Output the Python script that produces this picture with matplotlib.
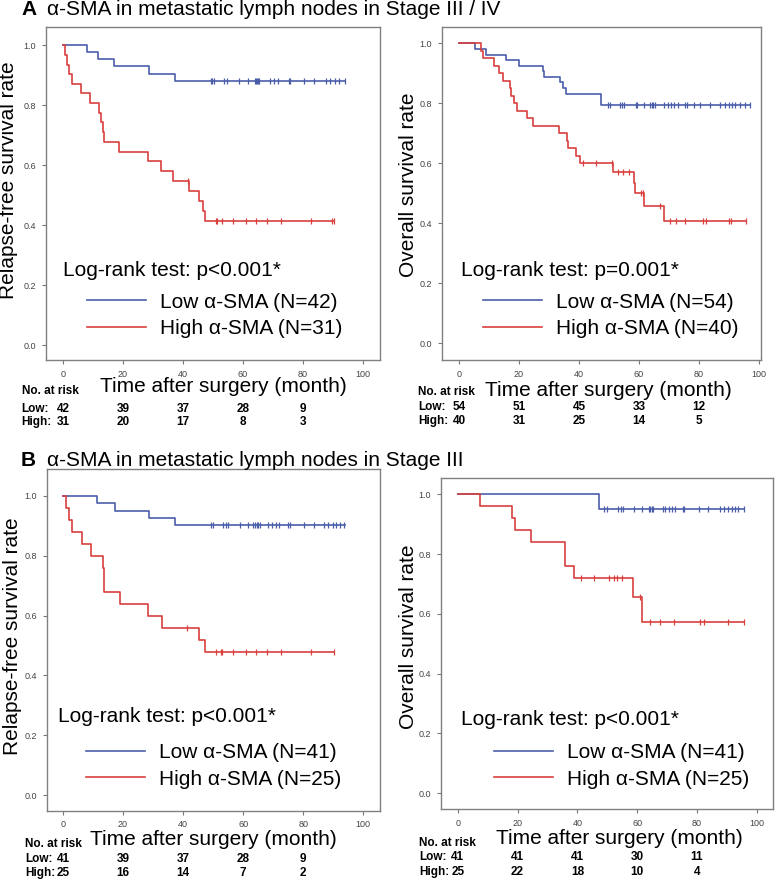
import numpy as np
import matplotlib
matplotlib.use('Agg')
import matplotlib.pyplot as plt
import matplotlib.transforms as mtransforms

plt.rcParams['font.family'] = ['Liberation Sans', 'DejaVu Sans']

BLUE = '#4a5daa'
RED = '#d8403e'
W, H = 778, 880

# ---------------- data ----------------
# Panel A (Stage III / IV), relapse-free survival
a_rfs_low_t = [0, 7.9, 11.5, 17.1, 28.7, 37.3, 94.0]
a_rfs_low_s = [1.0, 0.976, 0.952, 0.929, 0.905, 0.881, 0.881]
a_rfs_low_cens = [49.3, 49.6, 50.2, 53.7, 54.6, 58.8, 61.8, 64.1, 64.4, 64.6, 64.9, 65.2,
                  69.1, 70.4, 71.6, 75.3, 75.7, 80.4, 83.8, 87.7, 89.1, 90.8, 91.9, 93.9]
a_rfs_high_t = [0, 0.7, 1.4, 2.0, 2.9, 6.0, 8.9, 12.1, 12.7, 13.2, 13.7, 18.8, 28.3,
                32.7, 36.5, 42.0, 45.4, 46.5, 47.2, 90.5]
a_rfs_high_s = [1.0, 0.968, 0.935, 0.903, 0.871, 0.839, 0.806, 0.774, 0.742, 0.710, 0.677,
                0.645, 0.613, 0.581, 0.548, 0.514, 0.480, 0.446, 0.412, 0.412]
a_rfs_high_cens = [41.5, 51.1, 51.5, 52.9, 56.6, 61.0, 64.4, 68.0, 72.6, 82.6, 89.7, 90.5]

# Panel A (Stage III / IV), overall survival
a_os_low_t = [0, 5.4, 8.9, 15.8, 19.9, 27.9, 28.3, 33.8, 34.7, 35.7, 47.3, 97.1]
a_os_low_s = [1.0, 0.981, 0.963, 0.944, 0.926, 0.907, 0.889, 0.870, 0.852, 0.833, 0.796, 0.796]
a_os_low_cens = [49.6, 50.2, 53.6, 54.2, 55.1, 58.9, 59.3, 61.8, 63.8, 64.3, 64.8, 65.4,
                 68.4, 69.6, 70.7, 71.8, 72.9, 75.4, 76.0, 78.2, 80.4, 83.8, 87.1, 88.8,
                 89.9, 91.0, 92.1, 93.8, 95.3, 97.1]
a_os_high_t = [0, 7.3, 8.0, 11.6, 13.4, 14.7, 16.9, 17.3, 18.4, 19.3, 22.7, 24.7, 33.3,
               36.0, 36.3, 39.1, 40.2, 51.3, 58.2, 58.6, 61.6, 68.2, 95.8]
a_os_high_s = [1.0, 0.975, 0.95, 0.925, 0.90, 0.875, 0.85, 0.825, 0.80, 0.775, 0.75, 0.725,
               0.70, 0.675, 0.65, 0.625, 0.60, 0.572, 0.536, 0.50, 0.459, 0.408, 0.408]
a_os_high_cens = [41.3, 45.7, 51.0, 52.9, 54.7, 56.6, 60.7, 61.2, 67.1, 70.4, 72.4, 75.4,
                  81.3, 82.4, 89.9, 90.7, 95.8]

# Panel B (Stage III), relapse-free survival
b_rfs_low_t = [0, 11.4, 17.3, 28.7, 37.3, 93.9]
b_rfs_low_s = [1.0, 0.976, 0.951, 0.927, 0.902, 0.902]
b_rfs_low_cens = [49.3, 50.1, 53.4, 54.2, 55.1, 58.9, 61.7, 63.4, 64.0, 64.5, 65.0, 65.6,
                  68.4, 69.5, 70.9, 72.0, 75.0, 75.6, 80.4, 83.7, 87.0, 88.3, 90.0, 91.1,
                  92.2, 93.7]
b_rfs_high_t = [0, 0.9, 2.0, 3.1, 6.2, 9.2, 13.2, 13.5, 13.8, 19.0, 28.2, 32.9, 45.3, 47.3, 90.3]
b_rfs_high_s = [1.0, 0.96, 0.92, 0.88, 0.84, 0.80, 0.76, 0.72, 0.68, 0.64, 0.60, 0.56,
                0.52, 0.48, 0.48]
b_rfs_high_cens = [41.4, 50.9, 52.6, 53.1, 56.5, 60.8, 64.3, 67.8, 72.5, 82.5, 90.3]

# Panel B (Stage III), overall survival
b_os_low_t = [0, 47.3, 95.8]
b_os_low_s = [1.0, 0.951, 0.951]
b_os_low_cens = [48.9, 49.8, 53.7, 54.5, 55.2, 59.0, 61.5, 63.8, 64.3, 64.8, 65.4, 68.6,
                 69.3, 70.5, 71.6, 72.7, 75.3, 75.7, 80.5, 83.8, 87.7, 88.9, 90.5, 91.6,
                 92.7, 93.8, 95.8]
b_os_high_t = [0, 7.5, 18.3, 19.0, 24.5, 35.7, 36.0, 38.9, 58.5, 61.5, 95.8]
b_os_high_s = [1.0, 0.96, 0.92, 0.88, 0.84, 0.80, 0.76, 0.72, 0.655, 0.573, 0.573]
b_os_high_cens = [41.1, 45.6, 50.7, 52.1, 53.4, 54.8, 60.8, 64.3, 67.7, 72.4, 81.0, 82.4,
                  90.3, 95.8]

# number at risk at 0, 20, 40, 60, 80 months
risk_times = [0, 20, 40, 60, 80]
a_rfs_risk_low = [42, 39, 37, 28, 9]
a_rfs_risk_high = [31, 20, 17, 8, 3]
a_os_risk_low = [54, 51, 45, 33, 12]
a_os_risk_high = [40, 31, 25, 14, 5]
b_rfs_risk_low = [41, 39, 37, 28, 9]
b_rfs_risk_high = [25, 16, 14, 7, 2]
b_os_risk_low = [41, 41, 41, 30, 11]
b_os_risk_high = [25, 22, 18, 10, 4]

fig = plt.figure(figsize=(W / 100, H / 100), dpi=100)


def fx(px):
    return px / W


def fy(py):
    return 1 - py / H


def km(ax, t, s, cens, color):
    ax.step(t, s, where='post', color=color, lw=1.2)
    idx = np.searchsorted(t, cens, side='right') - 1
    ax.plot(cens, np.array(s)[idx], ls='none', marker='|', ms=5, mew=0.9, color=color)


def panel(box, xlim, ylim, low, high, n_low, n_high, ylabel, ptext,
          text_pos, leg_pos, risk_low, risk_high, lab_xy, rows):
    l, t, r, b = box
    ax = fig.add_axes([fx(l), fy(b), fx(r - l), (b - t) / H])
    km(ax, *low, BLUE)
    km(ax, *high, RED)
    ax.set_xlim(*xlim)
    ax.set_ylim(*ylim)
    ax.set_xticks([0, 20, 40, 60, 80, 100])
    ax.set_yticks([0, 0.2, 0.4, 0.6, 0.8, 1.0])
    ax.set_yticklabels(['0.0', '0.2', '0.4', '0.6', '0.8', '1.0'])
    ax.tick_params(labelsize=6.5, labelcolor='#444444', color='#777777',
                   length=3, width=0.8, pad=4)
    for sp in ax.spines.values():
        sp.set_color('#808080')
        sp.set_linewidth(1.0)

    ax.text(text_pos[0], text_pos[1], ptext, transform=ax.transAxes,
            fontsize=15, va='center', ha='left')
    h1, = ax.plot([], [], color=BLUE, lw=1.2)
    h2, = ax.plot([], [], color=RED, lw=1.2)
    ax.legend([h1, h2], ['Low \u03b1-SMA (N=%d)' % n_low, 'High \u03b1-SMA (N=%d)' % n_high],
              loc='center left', bbox_to_anchor=leg_pos, frameon=False, fontsize=15,
              handlelength=2.85, handletextpad=0.67, labelspacing=0.36,
              borderpad=0, borderaxespad=0)

    # axis titles
    ylx, yly, xlx, xly = lab_xy
    fig.text(fx(ylx), fy(yly), ylabel, rotation=90, fontsize=15, ha='center', va='center')
    fig.text(fx(xlx), fy(xly), 'Time after surgery (month)', fontsize=15,
             ha='center', va='center')

    # number at risk table
    tx, y0, y1, y2 = rows
    fig.text(fx(tx), fy(y0), 'No. at risk', fontsize=8.5, fontweight='bold', va='center')
    fig.text(fx(tx), fy(y1), 'Low:', fontsize=8.5, fontweight='bold', va='center')
    fig.text(fx(tx), fy(y2), 'High:', fontsize=8.5, fontweight='bold', va='center')
    trans = mtransforms.blended_transform_factory(ax.transData, fig.transFigure)
    for tm, nl, nh in zip(risk_times, risk_low, risk_high):
        ax.text(tm, fy(y1), str(nl), transform=trans, fontsize=8.5, fontweight='bold',
                ha='center', va='center')
        ax.text(tm, fy(y2), str(nh), transform=trans, fontsize=8.5, fontweight='bold',
                ha='center', va='center')
    return ax


# panel titles
fig.text(fx(21), fy(15), 'A', fontsize=15, fontweight='bold', va='baseline')
fig.text(fx(46.7), fy(15), '\u03b1-SMA in metastatic lymph nodes in Stage III / IV',
         fontsize=15, va='baseline')
fig.text(fx(21), fy(466), 'B', fontsize=15, fontweight='bold', va='baseline')
fig.text(fx(46.7), fy(466), '\u03b1-SMA in metastatic lymph nodes in Stage III',
         fontsize=15, va='baseline')

panel((46, 27, 380, 360), (-5.67, 105.67), (-0.05, 1.06),
      (a_rfs_low_t, a_rfs_low_s, a_rfs_low_cens),
      (a_rfs_high_t, a_rfs_high_s, a_rfs_high_cens), 42, 31,
      'Relapse-free survival rate', 'Log-rank test: p<0.001*',
      (0.051, 0.270), (0.123, 0.134), a_rfs_risk_low, a_rfs_risk_high,
      (9, 180, 223, 387), (21.7, 391, 409, 422))

panel((442, 27, 761, 360), (-5.67, 100.67), (-0.056, 1.055),
      (a_os_low_t, a_os_low_s, a_os_low_cens),
      (a_os_high_t, a_os_high_s, a_os_high_cens), 54, 40,
      'Overall survival rate', 'Log-rank test: p=0.001*',
      (0.059, 0.270), (0.1285, 0.134), a_os_risk_low, a_os_risk_high,
      (408, 185, 608, 390), (418.3, 392, 407, 421))

panel((46.7, 469.3, 380, 810.7), (-5.43, 105.6), (-0.052, 1.089),
      (b_rfs_low_t, b_rfs_low_s, b_rfs_low_cens),
      (b_rfs_high_t, b_rfs_high_s, b_rfs_high_cens), 41, 25,
      'Relapse-free survival rate', 'Log-rank test: p<0.001*',
      (0.035, 0.275), (0.118, 0.1315), b_rfs_risk_low, b_rfs_risk_high,
      (13, 636, 213, 839), (25, 844, 859, 873))

panel((441, 477.7, 772.7, 809.3), (-5.6, 105.3), (-0.054, 1.056),
      (b_os_low_t, b_os_low_s, b_os_low_cens),
      (b_os_high_t, b_os_high_s, b_os_high_cens), 41, 25,
      'Overall survival rate', 'Log-rank test: p<0.001*',
      (0.059, 0.272), (0.160, 0.131), b_os_risk_low, b_os_risk_high,
      (408, 637, 619, 838), (419.3, 843, 857, 872))

fig.savefig('out.png', dpi=100)
